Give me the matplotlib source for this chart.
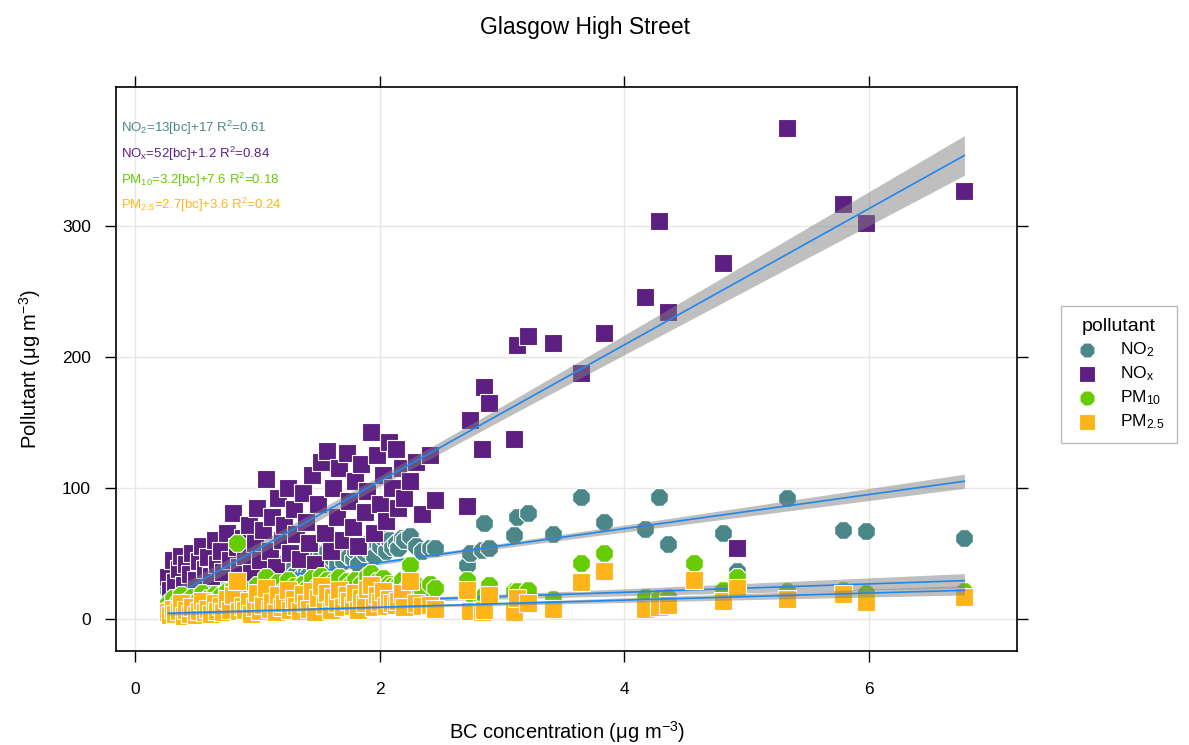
import numpy as np
import matplotlib
matplotlib.use("Agg")
import matplotlib.pyplot as plt

plt.rcParams['font.family'] = ['Liberation Sans', 'DejaVu Sans']
plt.rcParams['mathtext.fontset'] = 'custom'
plt.rcParams['mathtext.rm'] = 'Liberation Sans'
plt.rcParams['mathtext.it'] = 'Liberation Sans:italic'
plt.rcParams['mathtext.default'] = 'regular'

# BC concentration and matching pollutant concentrations (ug m-3)
bc = [0.27, 0.29, 0.31, 0.33, 0.36, 0.38, 0.40, 0.42, 0.45, 0.47,
      0.50, 0.52, 0.55, 0.57, 0.60, 0.62, 0.65, 0.67, 0.70, 0.72,
      0.75, 0.78, 0.80, 0.83, 0.85, 0.88, 0.90, 0.93, 0.95, 0.98,
      1.00, 1.02, 1.05, 1.07, 1.10, 1.12, 1.15, 1.17, 1.20, 1.22,
      1.25, 1.27, 1.30, 1.32, 1.35, 1.37, 1.40, 1.42, 1.45, 1.47,
      1.50, 1.52, 1.55, 1.57, 1.60, 1.62, 1.65, 1.67, 1.70, 1.73,
      1.75, 1.78, 1.80, 1.82, 1.85, 1.88, 1.90, 1.93, 1.95, 1.98,
      2.00, 2.03, 2.05, 2.08, 2.10, 2.13, 2.15, 2.18, 2.20, 2.25,
      2.30, 2.35, 2.41, 2.45,
      2.71, 2.74, 2.84, 2.85, 2.89, 3.10, 3.12, 3.21, 3.42, 3.65,
      3.83, 4.17, 4.28, 4.36, 4.57, 4.81, 4.92, 5.33, 5.79, 5.98, 6.78]

no2 = [22, 18, 28, 20, 24, 27, 19, 25, 22, 29,
       21, 26, 30, 24, 27, 23, 32, 26, 29, 24,
       34, 27, 38, 30, 25, 32, 28, 36, 24, 31,
       40, 28, 34, 45, 30, 37, 26, 42, 33, 36,
       46, 30, 40, 35, 31, 44, 38, 34, 48, 35,
       42, 50, 38, 52, 40, 46, 42, 50, 44, 54,
       48, 46, 52, 42, 56, 50, 54, 60, 48, 58,
       56, 62, 52, 60, 55, 58, 54, 62, 60, 63,
       56, 52, 54, 54,
       41, 50, 53, 73, 54, 64, 78, 81, 65, 93,
       74, 69, 93, 57, np.nan, 66, 37, 92, 68, 67, 62]

nox = [32, 22, 45, 28, 38, 48, 26, 42, 34, 50,
       30, 44, 56, 38, 47, 33, 60, 42, 52, 36,
       66, 45, 81, 55, 40, 62, 48, 72, 35, 58,
       85, 45, 68, 107, 52, 78, 40, 92, 60, 72,
       100, 50, 84, 65, 46, 96, 74, 58, 110, 42,
       88, 120, 66, 128, 52, 100, 78, 115, 60, 127,
       90, 70, 105, 56, 118, 82, 98, 143, 66, 125,
       88, 110, 75, 135, 100, 130, 85, 115, 92, 105,
       120, 80, 125, 91,
       86, 152, 130, 177, 165, 137, 209, 216, 211, 188,
       218, 246, 304, 234, np.nan, 272, 54, 375, 317, 302, 327]

pm10 = [12, 9, 16, 10, 14, 18, 8, 13, 11, 17,
        10, 15, 20, 12, 16, 11, 19, 14, 18, 12,
        21, 15, 24, 58, 13, 19, 16, 22, 12, 18,
        26, 15, 21, 32, 17, 24, 14, 28, 19, 22,
        30, 16, 25, 20, 15, 27, 23, 18, 31, 14,
        26, 33, 21, 30, 17, 28, 23, 32, 19, 29,
        25, 21, 30, 17, 27, 23, 33, 35, 20, 29,
        24, 31, 22, 27, 25, 23, 26, 30, 21, 41,
        26, 22, 27, 24,
        30, 20, 16, 18, 26, 21, 21, 22, 15, 43,
        50, 17, 16, 17, 43, 22, 32, 21, 22, 20, 21]

pm25 = [5, 3, 8, 4, 6, 12, 2, 7, 4, 9,
        3, 6, 14, 5, 8, 4, 12, 6, 10, 5,
        15, 7, 18, 29, 6, 10, 7, 14, 4, 9,
        20, 6, 11, 24, 8, 13, 5, 18, 9, 12,
        22, 7, 15, 10, 6, 19, 12, 8, 21, 5,
        16, 25, 11, 20, 7, 17, 12, 22, 9, 18,
        14, 10, 20, 7, 16, 12, 23, 26, 9, 18,
        13, 21, 10, 15, 12, 11, 14, 20, 9, 29,
        12, 10, 11, 8,
        22, 6, 5, 7, 18, 5, 16, 12, 8, 28,
        37, 8, 9, 11, 30, 14, 24, 15, 19, 13, 17]

labels = ['NO$_2$', 'NO$_x$', 'PM$_{10}$', 'PM$_{2.5}$']
slopes = [13, 52, 3.2, 2.7]
intercepts = [17, 1.2, 7.6, 3.6]
r_squared = [0.61, 0.84, 0.18, 0.24]

colors = ['#4B8788', '#5E1F83', '#66CC00', '#FFB51A']
markers = ['8', 's', '8', 's']
sizes = [190, 165, 190, 165]

fig = plt.figure(figsize=(11.89, 7.45), dpi=100)
ax = fig.add_axes([0.0976, 0.1262, 0.7577, 0.757])

x_all = np.array(bc, dtype=float)
handles = []
for i, (vals, col) in enumerate(zip([no2, nox, pm10, pm25], colors)):
    y = np.array(vals, dtype=float)
    ok = ~np.isnan(y)
    x, y = x_all[ok], y[ok]
    h = ax.scatter(x, y, s=sizes[i], marker=markers[i], c=col,
                   edgecolors='white', linewidths=0.8, zorder=2 + 3 * i)
    handles.append(h)

    # straight-line fit from the stated coefficients, shaded error band
    fit = slopes[i] * x + intercepts[i]
    n = len(x)
    s = np.sqrt(np.sum((y - fit) ** 2) / (n - 2))
    sxx = np.sum((x - x.mean()) ** 2)
    xs = np.linspace(x.min(), x.max(), 100)
    ys = slopes[i] * xs + intercepts[i]
    half = 1.2 * s * np.sqrt(1 / n + (xs - x.mean()) ** 2 / sxx)
    ax.fill_between(xs, ys - half, ys + half, color='grey', alpha=0.5,
                    linewidth=0, zorder=3 + 3 * i)
    ax.plot(xs, ys, color='#1E88F0', lw=1.2, zorder=4 + 3 * i)

    ax.text(0.005, 0.927 - i * 0.0456,
            f'{labels[i]}={slopes[i]:g}[bc]+{intercepts[i]:g} R$^2$={r_squared[i]:.2f}',
            transform=ax.transAxes, color=col, fontsize=9.5, ha='left', va='center',
            zorder=20)

ax.set_xlim(-0.155, 7.21)
ax.set_ylim(-24.4, 406)
ax.set_xticks([0, 2, 4, 6])
ax.set_yticks([0, 100, 200, 300])
ax.grid(color='#E6E6E6', lw=1)
ax.set_axisbelow(True)
ax.tick_params(direction='out', length=8, width=1, labelsize=12.5, pad=10,
               top=True, right=True, colors='black')
ax.tick_params(axis='x', pad=14)
for sp in ax.spines.values():
    sp.set_linewidth(1.2)

ax.set_xlabel('BC concentration (μg m$^{-3}$)', fontsize=14.5, labelpad=16)
ax.set_ylabel('Pollutant (μg m$^{-3}$)', fontsize=14.5, labelpad=14)
fig.suptitle('Glasgow High Street', x=0.492, y=0.978, fontsize=16.5)

leg = fig.legend(handles, labels, title='pollutant', loc='center left',
                 bbox_to_anchor=(0.8925, 0.497), frameon=True, fancybox=False,
                 edgecolor='#AAAAAA', fontsize=12.5, title_fontsize=14,
                 handletextpad=1.1, handlelength=1.6, borderpad=0.7,
                 labelspacing=0.3, markerscale=0.85, borderaxespad=0)
leg.get_frame().set_linewidth(1)

fig.savefig('out.png', dpi=100)
